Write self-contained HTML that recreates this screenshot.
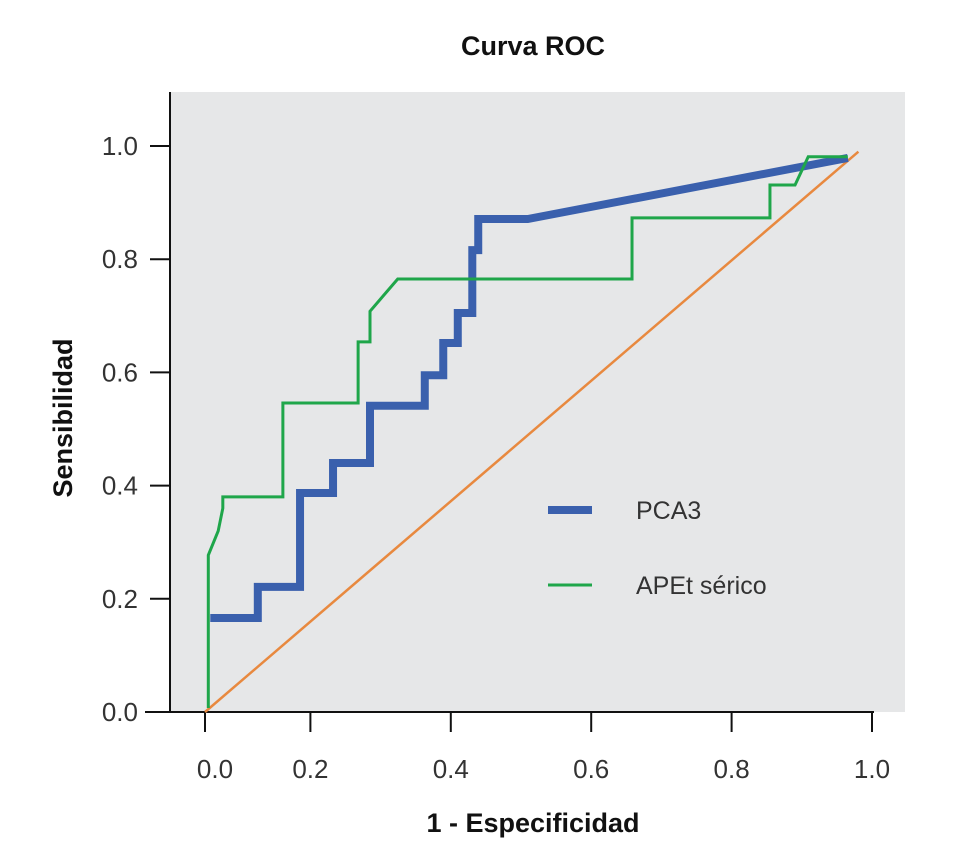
<!DOCTYPE html>
<html><head><meta charset="utf-8"><style>
body{margin:0;background:#fff;}
svg{display:block;font-family:"Liberation Sans Narrow","Liberation Sans",sans-serif;}
</style></head><body>
<svg id="chart" width="962" height="850" viewBox="0 0 962 850">
<text x="533" y="55" text-anchor="middle" font-size="27" font-weight="bold" fill="#111">Curva ROC</text>
<rect x="170" y="92" width="735" height="620" fill="#e6e7e8"/>
<g id="axes"></g>
<g id="series"></g>
<text x="533" y="832" text-anchor="middle" font-size="27" font-weight="bold" fill="#111">1 - Especificidad</text>
<text transform="translate(72,418) rotate(-90)" text-anchor="middle" font-size="27" font-weight="bold" fill="#111">Sensibilidad</text>
<g>
<line x1="548" y1="510" x2="592" y2="510" stroke="#3a60ad" stroke-width="8"/>
<text x="636" y="519" font-size="25" fill="#333" font-weight="300">PCA3</text>
<line x1="548" y1="585" x2="592" y2="585" stroke="#1fa64a" stroke-width="3"/>
<text x="636" y="594" font-size="25" fill="#333">APEt sérico</text>
</g>
</svg>
<script>
const xTicks=[0,0.2,0.4,0.6,0.8,1.0];
const yTicks=[0,0.2,0.4,0.6,0.8,1.0];
const pcaX=[0.008,0.080,0.144,0.194,0.25,0.333,0.361,0.383,0.405,0.414,0.489,0.974];
const pcaY=[0.166,0.221,0.387,0.44,0.541,0.595,0.652,0.705,0.816,0.871,0.871,0.979];
const apetX=[0.005,0.005,0.02,0.027,0.027,0.118,0.118,0.232,0.232,0.25,0.25,0.292,0.647,0.647,0.856,0.856,0.894,0.914,0.974];
const apetY=[0.007,0.277,0.32,0.36,0.38,0.38,0.546,0.546,0.654,0.654,0.708,0.765,0.765,0.873,0.873,0.931,0.931,0.981,0.981];
const refX=[0,0.99];
const refY=[0,0.99];
const NS="http://www.w3.org/2000/svg";
function x(v){return 205+660*v;}
function y(v){return 712-566*v;}
function tx(v){return v===0?x(0):170+702*v;}
const axes=document.getElementById('axes');
const series=document.getElementById('series');
function mk(tag,attrs,parent){const e=document.createElementNS(NS,tag);for(const k in attrs)e.setAttribute(k,attrs[k]);parent.appendChild(e);return e;}
let l=mk('line',{x1:145,y1:712,x2:874,y2:712,stroke:'#111','stroke-width':2},axes);


l=mk('line',{x1:170,y1:92,x2:170,y2:712,stroke:'#111','stroke-width':2},axes);


xTicks.forEach(v=>{
 const t=mk('line',{x1:tx(v),y1:712,x2:tx(v),y2:732,stroke:'#111','stroke-width':2},axes);
 
 
 const s=mk('text',{x:tx(v)+(v===0?10:0),y:778,'text-anchor':'middle','font-size':26,fill:'#333'},axes);
 s.textContent=v.toFixed(1);
 
 
});
yTicks.forEach(v=>{
 const t=mk('line',{x1:150,y1:y(v),x2:170,y2:y(v),stroke:'#111','stroke-width':2},axes);
 
 
 const s=mk('text',{x:138,y:y(v)+9,'text-anchor':'end','font-size':26,fill:'#333'},axes);
 s.textContent=v.toFixed(1);
 
 
});
function pts(X,Y){return X.map((v,i)=>x(v)+','+y(Y[i])).join(' ');}
let r=mk('polyline',{points:pts(refX,refY),fill:'none',stroke:'#e8893f','stroke-width':2.5},series);


let p=mk('polyline',{points:(function(){let s=[];for(let i=0;i<pcaX.length;i++){if(i>0&&i<pcaX.length-1)s.push(x(pcaX[i])+','+y(pcaY[i-1]));s.push(x(pcaX[i])+','+y(pcaY[i]));}return s.join(' ');})(),fill:'none',stroke:'#3a60ad','stroke-width':8,'stroke-linejoin':'miter'},series);


let g=mk('polyline',{points:pts(apetX,apetY),fill:'none',stroke:'#1fa64a','stroke-width':3},series);


</script>
</body></html>
